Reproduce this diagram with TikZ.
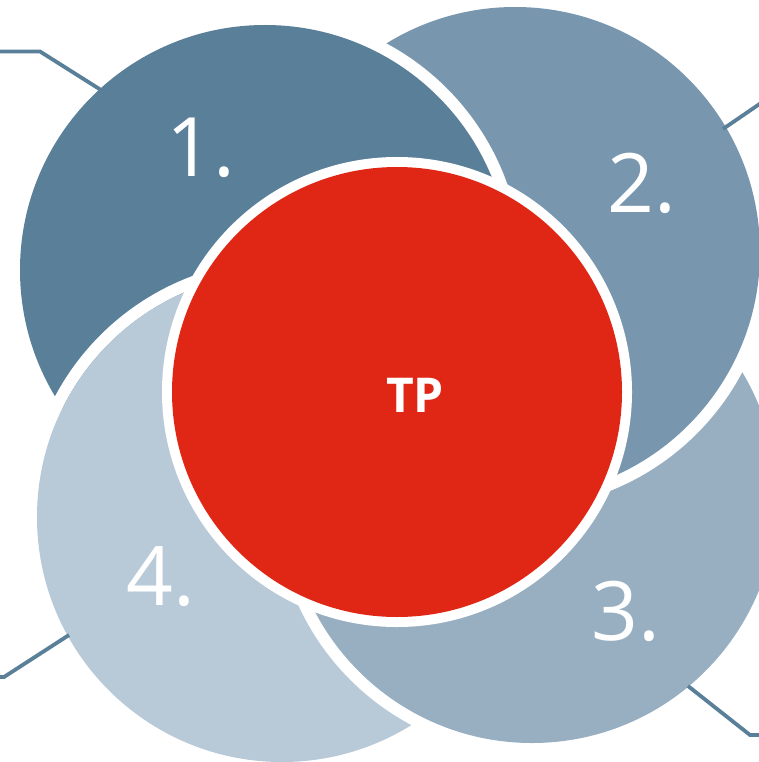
\documentclass[tikz,border=0pt]{standalone}
\usepackage{fontspec}
\setmainfont{Open Sans}
\definecolor{cone}{HTML}{5A7F99}
\definecolor{ctwo}{HTML}{7897AF}
\definecolor{cthree}{HTML}{98AFC2}
\definecolor{cfour}{HTML}{B8C9D8}
\definecolor{cred}{HTML}{E02614}
\tikzset{
  leader/.style={draw=cone, line width=3.8pt, line join=miter},
  numlabel/.style={text=white, font=\fontsize{82}{82}\selectfont, inner sep=0pt},
  centerlabel/.style={text=white, font=\fontsize{48}{48}\selectfont\bfseries, inner sep=0pt}
}
\begin{document}
\begin{tikzpicture}[x=1pt,y=-1pt]
\useasboundingbox (0,0) rectangle (759,762);
% circle centres
\coordinate (c1) at (265,270);
\coordinate (c2) at (515,252);
\coordinate (c3) at (532,498);
\coordinate (c4) at (282,517);
\coordinate (cr) at (397,392);
% outer circles, cyclic overlap 4<3<2<1<4
\fill[white] (c4) circle (257); \fill[cfour] (c4) circle (245);
\fill[white] (c3) circle (257); \fill[cthree] (c3) circle (245);
\fill[white] (c2) circle (257); \fill[ctwo] (c2) circle (245);
\fill[white] (c1) circle (257); \fill[cone] (c1) circle (245);
\begin{scope}
  \clip (c1) circle (275);
  \fill[white, even odd rule] (c4) circle (257) (c4) circle (245);
  \fill[cfour] (c4) circle (245);
\end{scope}
% central circle
\fill[white] (cr) circle (235);
\fill[cred] (cr) circle (225);
% leader lines
\coordinate (l1a) at (-2,51.5);
\coordinate (l1b) at (40,51.5);
\coordinate (l1c) at (101,90);
\coordinate (l2a) at (723,129);
\coordinate (l2b) at (761,103);
\coordinate (l3a) at (-2,677);
\coordinate (l3b) at (4,677);
\coordinate (l3c) at (69,635);
\coordinate (l4a) at (688,686);
\coordinate (l4b) at (750,735);
\coordinate (l4c) at (761,735);
\draw[leader] (l1a) -- (l1b) -- (l1c);
\draw[leader] (l2a) -- (l2b);
\draw[leader] (l3a) -- (l3b) -- (l3c);
\draw[leader] (l4a) -- (l4b) -- (l4c);
% labels
\node[numlabel] (n1) at (201,148) {1.};
\node[numlabel] (n2) at (642,183) {2.};
\node[numlabel] (n3) at (626,611) {3.};
\node[numlabel] (n4) at (161,577) {4.};
\node[centerlabel] (tp) at (415,395) {TP};
\end{tikzpicture}
\end{document}
